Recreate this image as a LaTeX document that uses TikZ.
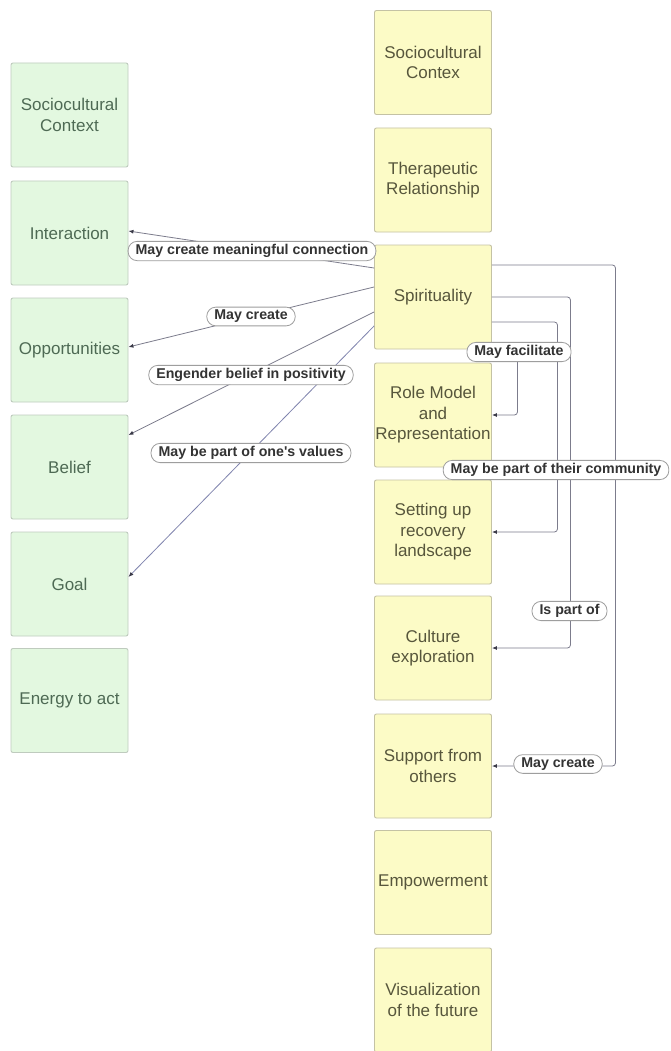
\documentclass[tikz,border=0pt]{standalone}
\usepackage{fontspec}
\setmainfont{Liberation Sans}
\usetikzlibrary{arrows.meta,calc}

\definecolor{greenfill}{HTML}{E3F8E0}
\definecolor{greenline}{HTML}{BFCBBE}
\definecolor{greentext}{HTML}{4E6A54}
\definecolor{yellowfill}{HTML}{FCFBC6}
\definecolor{yellowline}{HTML}{C4C2A4}
\definecolor{yellowtext}{HTML}{57563C}
\definecolor{wire}{HTML}{7C7C8C}
\definecolor{wireblue}{HTML}{8084AE}
\definecolor{tipcol}{HTML}{3A3A48}
\definecolor{tagline}{HTML}{9E9E9E}
\definecolor{tagtext}{HTML}{333333}

\tikzset{
  card/.style={rectangle, rounded corners=2pt, minimum width=117pt,
    minimum height=104pt, inner xsep=0pt, align=center,
    font=\fontsize{17}{20.5}\selectfont, line width=0.9pt},
  greencard/.style={card, fill=greenfill, draw=greenline, text=greentext},
  yellowcard/.style={card, fill=yellowfill, draw=yellowline, text=yellowtext},
  link/.style={draw=wire, line width=0.8pt,
    -{Latex[length=5pt,width=4pt,color=tipcol]}},
  elbow/.style={link, rounded corners=3pt},
  tag/.style={rectangle, rounded corners=9pt, draw=tagline, fill=white,
    text=tagtext, font=\fontsize{14.2}{16}\selectfont\bfseries,
    inner xsep=7.5pt, inner ysep=3pt, line width=0.8pt},
}

\begin{document}
\begin{tikzpicture}[x=1pt,y=-1pt]
\useasboundingbox (0,0) rectangle (670,1051);
\fill[white] (0,0) rectangle (670,1051);

% left column
\node[greencard] (gsoc)   at (69.5,115)   {Sociocultural\\Context};
\node[greencard] (inter)  at (69.5,233)   {Interaction};
\node[greencard] (opp)    at (69.5,350)   {Opportunities};
\node[greencard] (belief) at (69.5,467)   {Belief};
\node[greencard] (goal)   at (69.5,584)   {Goal};
\node[greencard] (energy) at (69.5,700.5) {Energy to act};

% right column
\node[yellowcard] (ysoc)  at (433,62.5)  {Sociocultural\\Contex};
\node[yellowcard] (ther)  at (433,180)   {Therapeutic\\Relationship};
\node[yellowcard] (spir)  at (433,297)   {Spirituality};
\node[yellowcard] (role)  at (433,415)   {Role Model\\and\\Representation};
\node[yellowcard] (setup) at (433,532)   {Setting up\\recovery\\landscape};
\node[yellowcard] (cult)  at (433,648)   {Culture\\exploration};
\node[yellowcard] (supp)  at (433,766)   {Support from\\others};
\node[yellowcard] (empow) at (433,882.5) {Empowerment};
\node[yellowcard] (visu)  at (433,1000)  {Visualization\\of the future};

% links to the left column
\draw[link] ($(spir.west)+(0,-29)$) -- ($(inter.east)+(0,-2)$);
\draw[link] ($(spir.west)+(0,-10)$) -- ($(opp.east)+(0,-3)$);
\draw[link] ($(spir.west)+(0,15)$)  -- ($(belief.east)+(0,-32)$);
\draw[link, draw=wireblue] ($(spir.west)+(0,29)$) -- ($(goal.east)+(0,-7)$);

% elbow links to the right column
\draw[elbow] ($(spir.east)+(0,-32)$) -- ++(123.5,0) |- (supp.east);
\draw[elbow] (spir.east) -- ++(78.5,0) |- (cult.east);
\draw[elbow] ($(spir.east)+(0,25)$) -- ++(65.5,0) |- (setup.east);
\draw[elbow] ($(spir.east)+(0,50)$) -- ++(25.5,0) |- (role.east);

% link labels
\node[tag] (t1) at (252,251)   {May create meaningful connection};
\node[tag] (t2) at (251,316.5) {May create};
\node[tag] (t3) at (251,375)   {Engender belief in positivity};
\node[tag] (t4) at (251,453)   {May be part of one\textquotesingle s values};
\node[tag] (t5) at (519,352)   {May facilitate};
\node[tag] (t6) at (556,470)   {May be part of their community};
\node[tag] (t7) at (569.5,611) {Is part of};
\node[tag] (t8) at (558,764)   {May create};
\end{tikzpicture}
\end{document}
